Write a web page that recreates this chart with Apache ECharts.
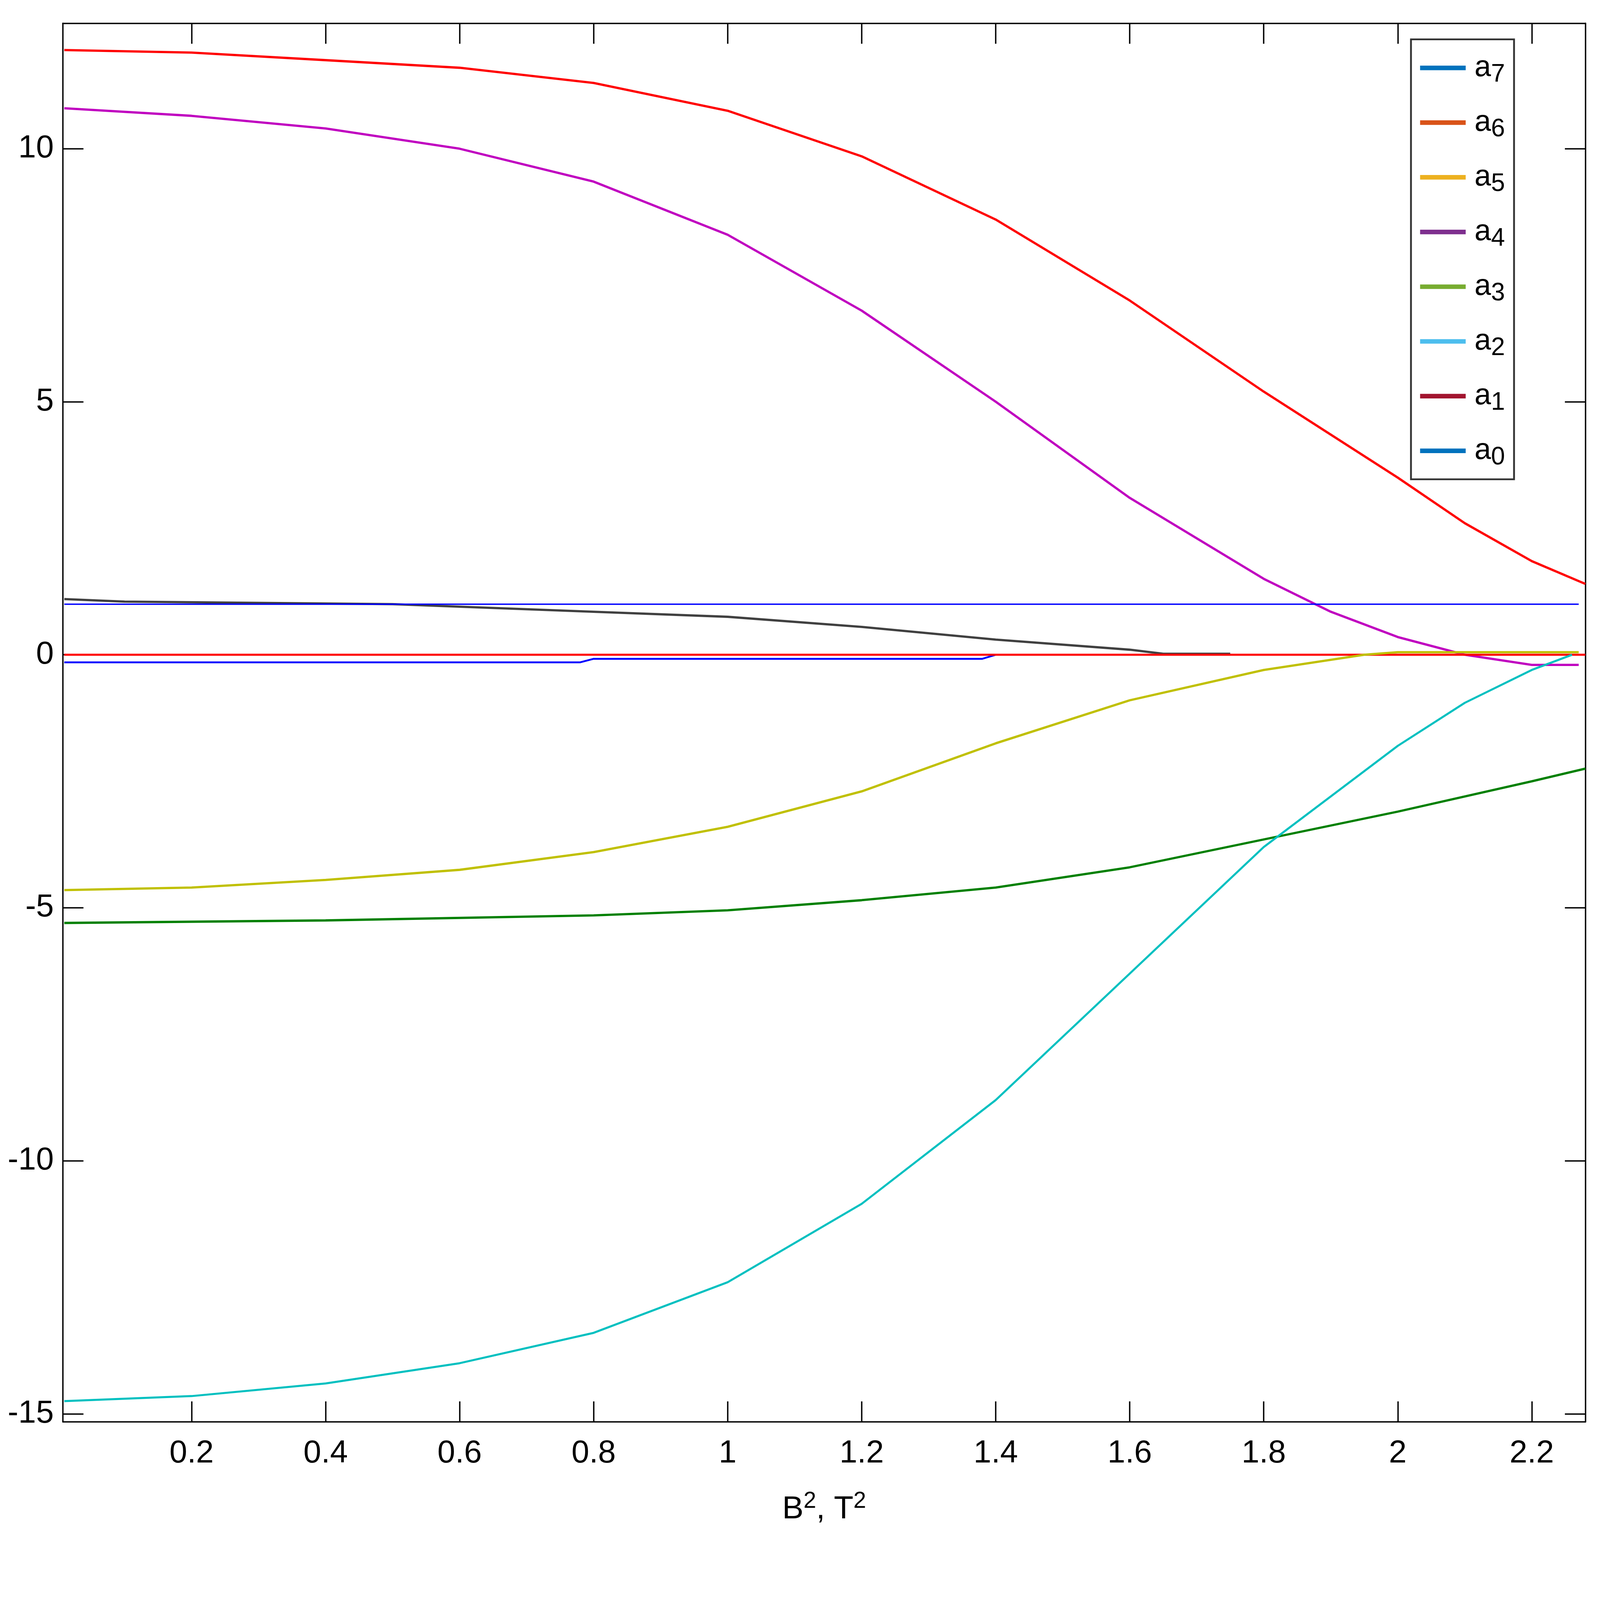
<!DOCTYPE html>
<html>
<head>
<meta charset="utf-8">
<script src="https://cdn.jsdelivr.net/npm/echarts@6/dist/echarts.min.js"></script>
<style>html,body{margin:0;padding:0;background:#fff;overflow:hidden}#main{width:100vw;height:100vh}</style>
</head>
<body>
<div id="main"></div>
<script>
// curves: [B^2, value]
var a6Data = [[0.01,11.95],[0.2,11.9],[0.4,11.75],[0.6,11.6],[0.8,11.3],[1.0,10.75],[1.2,9.85],[1.4,8.6],[1.6,7.0],[1.8,5.2],[2.0,3.5],[2.1,2.6],[2.2,1.85],[2.28,1.4]];
var a4Data = [[0.01,10.8],[0.2,10.65],[0.4,10.4],[0.6,10.0],[0.8,9.35],[1.0,8.3],[1.2,6.8],[1.4,5.0],[1.6,3.1],[1.8,1.5],[1.9,0.85],[2.0,0.35],[2.1,0.0],[2.2,-0.2],[2.27,-0.2]];
var greyData = [[0.01,1.1],[0.1,1.05],[0.5,1.0],[0.8,0.85],[1.0,0.75],[1.2,0.55],[1.4,0.3],[1.6,0.1],[1.65,0.02],[1.75,0.02]];
var blueTopData = [[0.01,1.0],[2.27,1.0]];
var blueLowData = [[0.01,-0.15],[0.78,-0.15],[0.8,-0.08],[1.38,-0.08],[1.4,0.0]];
var redZeroData = [[0.01,0.0],[2.28,0.0]];
var a5Data = [[0.01,-4.65],[0.2,-4.6],[0.4,-4.45],[0.6,-4.25],[0.8,-3.9],[1.0,-3.4],[1.2,-2.7],[1.4,-1.75],[1.6,-0.9],[1.8,-0.3],[1.95,0.0],[2.0,0.05],[2.27,0.05]];
var a3Data = [[0.01,-5.3],[0.4,-5.25],[0.8,-5.15],[1.0,-5.05],[1.2,-4.85],[1.4,-4.6],[1.6,-4.2],[1.8,-3.65],[2.0,-3.1],[2.2,-2.5],[2.28,-2.25]];
var a2Data = [[0.01,-14.75],[0.2,-14.65],[0.4,-14.4],[0.6,-14.0],[0.8,-13.4],[1.0,-12.4],[1.2,-10.85],[1.4,-8.8],[1.6,-6.3],[1.8,-3.8],[2.0,-1.8],[2.1,-0.95],[2.2,-0.3],[2.26,0.0]];

var xTicks = [0.2,0.4,0.6,0.8,1,1.2,1.4,1.6,1.8,2,2.2];
var yTicks = [-15,-10,-5,0,5,10];
var legendNames = ['7','6','5','4','3','2','1','0'];
var legendColors = ['#0072bd','#d95319','#edb120','#7e2f8e','#77ac30','#4dbeee','#a2142f','#0072bd'];

var font = '"Liberation Sans Narrow", "Liberation Sans", sans-serif';
var el = document.getElementById('main');
var s = el.clientWidth / 7017;   // sizes below are in reference pixels
var sy = el.clientHeight / 4959;
function p(v) { return v * s; }
var chart = echarts.init(el);

function curve(data, color, w) {
    return { type:'line', data:data, showSymbol:false, symbol:'none', animation:false,
        lineStyle:{ color:color, width:p(w) }, itemStyle:{ color:color }, z:3 };
}
var series = [
    curve(a6Data,'#ff0000',10),
    curve(a4Data,'#c000c0',10),
    curve(greyData,'#404040',10),
    curve(blueTopData,'#0000ff',6),
    curve(blueLowData,'#0000ff',8),
    curve(redZeroData,'#ff0000',9),
    curve(a5Data,'#c0c000',10),
    curve(a3Data,'#008000',10),
    curve(a2Data,'#00c0c0',9)
];
for (var i = 0; i < legendNames.length; i++) {
    series.push({ type:'line', name:legendNames[i], data:[], symbol:'none', animation:false,
        lineStyle:{ color:legendColors[i], width:p(8) }, itemStyle:{ color:legendColors[i] } });
}

function xAxis(pos, labels) {
    return { type:'value', position:pos, min:0.008, max:2.28, gridIndex:0,
        axisLine:{ show:true, onZero:false, lineStyle:{ color:'#000', width:p(6) } },
        axisTick:{ show:true, inside:true, length:p(90), customValues:xTicks, lineStyle:{ color:'#000', width:p(6) } },
        axisLabel:{ show:labels, customValues:xTicks, margin:p(70), color:'#000', fontSize:p(140), fontFamily:font },
        splitLine:{ show:false },
        name: labels ? '{b|B}{s|2}{b|, T}{s|2}' : '', nameLocation:'middle', nameGap:p(300),
        nameTextStyle:{ rich:{ b:{ fontSize:p(140), fontFamily:font, color:'#000' },
            s:{ fontSize:p(100), fontFamily:font, color:'#000', verticalAlign:'top', padding:[0,0,p(70),0] } } } };
}
function yAxis(pos, labels) {
    return { type:'value', position:pos, min:-15.16, max:12.48, gridIndex:0,
        axisLine:{ show:true, onZero:false, lineStyle:{ color:'#000', width:p(6) } },
        axisTick:{ show:true, inside:true, length:p(90), customValues:yTicks, lineStyle:{ color:'#000', width:p(6) } },
        axisLabel:{ show:labels, customValues:yTicks, margin:p(40), color:'#000', fontSize:p(140), fontFamily:font },
        splitLine:{ show:false } };
}

chart.setOption({
    backgroundColor:'#fff',
    animation:false,
    grid:{ left:p(276), right:p(64), top:72 * sy, bottom:552 * sy },
    xAxis:[ xAxis('bottom', true), xAxis('top', false) ],
    yAxis:[ yAxis('left', true), yAxis('right', false) ],
    legend:{
        data:legendNames, orient:'vertical', left:p(6188), top:122 * sy,
        padding:[p(60),p(40),p(40),p(40)], itemGap:p(90), itemWidth:p(260), itemHeight:p(20),
        borderColor:'#333', borderWidth:p(8), backgroundColor:'#fff',
        icon:'path://M0,0 L10,0 L10,1 L0,1 Z',
        formatter:function (n) { return '{a|a}{s|' + n + '}'; },
        textStyle:{ rich:{ a:{ fontSize:p(130), fontFamily:'"Liberation Sans", sans-serif', color:'#000' },
            s:{ fontSize:p(110), fontFamily:'"Liberation Sans", sans-serif', color:'#000', verticalAlign:'bottom', padding:[p(60),0,0,0] } } }
    },
    series:series
});
</script>
</body>
</html>
